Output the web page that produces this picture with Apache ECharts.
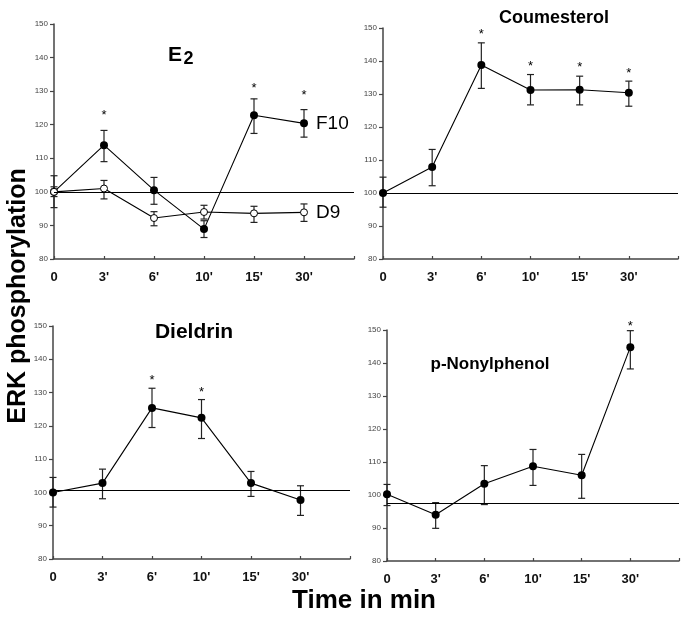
<!DOCTYPE html>
<html><head><meta charset="utf-8">
<script src="https://cdn.jsdelivr.net/npm/echarts@6/dist/echarts.min.js"></script>
<style>html,body{margin:0;padding:0;background:#fff}#c{width:687px;height:624px}</style>
</head><body><div id="c"></div>
<script>
// ---- data ----
const xLabels = ['0', "3'", "6'", "10'", "15'", "30'"];
const yTicks = [80, 90, 100, 110, 120, 130, 140, 150];

// E2 panel
const e2F10     = [100, 113.9, 100.5, 88.9, 122.8, 120.4];
const e2F10Hi   = [104.8, 118.3, 104.3, 91.4, 127.7, 124.5];
const e2F10Lo   = [95.3, 109.0, 96.3, 86.4, 117.4, 116.3];
const e2F10Star = [null, 123.8, null, null, 131.6, 129.5];
const e2D9      = [100, 101.0, 92.2, 94.0, 93.6, 93.9];
const e2D9Hi    = [101.5, 103.4, 94.1, 96.0, 95.7, 96.4];
const e2D9Lo    = [98.6, 97.9, 89.9, 91.9, 90.9, 91.2];

// Coumesterol panel
const coum     = [100, 107.9, 138.8, 131.2, 131.3, 130.4];
const coumHi   = [104.8, 113.2, 145.5, 135.9, 135.4, 133.9];
const coumLo   = [95.7, 102.2, 131.7, 126.7, 126.7, 126.3];
const coumStar = [null, null, 149.0, 139.3, 138.9, 137.0];

// Dieldrin panel
const diel     = [100, 102.8, 125.4, 122.4, 102.8, 97.7];
const dielHi   = [104.5, 107.0, 131.3, 127.9, 106.3, 102.0];
const dielLo   = [95.6, 98.1, 119.5, 116.2, 98.8, 93.1];
const dielStar = [null, null, 134.5, 130.8, null, null];

// p-Nonylphenol panel
const nonyl     = [100.2, 94.0, 103.4, 108.7, 106.0, 144.8];
const nonylHi   = [103.2, 97.7, 108.9, 113.8, 112.3, 149.8];
const nonylLo   = [96.8, 89.9, 97.1, 102.9, 99.0, 138.2];
const nonylStar = [null, null, null, null, null, 152.0];

// baseline reference lines per panel
const refLines = [100, 100, 100.6, 97.6];

// ---- layout ----
const FONT = 'Liberation Sans, Arial, sans-serif';
const grids = [
  {left: 54, top: 24, width: 300, height: 235},
  {left: 383, top: 28, width: 295, height: 231},
  {left: 53, top: 326, width: 297, height: 233},
  {left: 387, top: 330, width: 292, height: 231}
];

const panels = [
  {lines: [{name: 'F10', v: e2F10, hi: e2F10Hi, lo: e2F10Lo, star: e2F10Star, open: false, label: true},
           {name: 'D9', v: e2D9, hi: e2D9Hi, lo: e2D9Lo, star: null, open: true, label: true}]},
  {lines: [{name: 'Coumesterol', v: coum, hi: coumHi, lo: coumLo, star: coumStar, open: false}]},
  {lines: [{name: 'Dieldrin', v: diel, hi: dielHi, lo: dielLo, star: dielStar, open: false}]},
  {lines: [{name: 'p-Nonylphenol', v: nonyl, hi: nonylHi, lo: nonylLo, star: nonylStar, open: false}]}
];

const xAxes = [], yAxes = [], series = [];
grids.forEach((g, k) => {
  xAxes.push({
    gridIndex: k, type: 'category', boundaryGap: false,
    data: xLabels.concat(['']),
    axisLine: {lineStyle: {color: '#444', width: 1.5}},
    axisTick: {show: true, length: 3, inside: true, lineStyle: {color: '#444', width: 1.2}},
    axisLabel: {fontSize: 13, fontWeight: 'bold', color: '#111', fontFamily: FONT, margin: 12},
    splitLine: {show: false}
  });
  yAxes.push({
    gridIndex: k, type: 'value', min: yTicks[0], max: yTicks[yTicks.length - 1], interval: 10,
    axisLine: {show: true, lineStyle: {color: '#444', width: 1.5}},
    axisTick: {show: true, length: 4, lineStyle: {color: '#444', width: 1.2}},
    axisLabel: {fontSize: 8, color: '#444', fontFamily: FONT, margin: 6},
    splitLine: {show: false}
  });
});

function errSeries(k, line) {
  return {
    type: 'custom', xAxisIndex: k, yAxisIndex: k, z: 2, clip: false, silent: true,
    data: line.v.map((_, i) => [i, line.lo[i], line.hi[i]]),
    encode: {x: 0, y: [1, 2]},
    renderItem: function (params, api) {
      const x = api.value(0);
      const lo = api.coord([x, api.value(1)]);
      const hi = api.coord([x, api.value(2)]);
      const w = 3.5;
      const st = {stroke: '#222', lineWidth: 1.2};
      return {type: 'group', children: [
        {type: 'line', shape: {x1: lo[0], y1: lo[1], x2: hi[0], y2: hi[1]}, style: st},
        {type: 'line', shape: {x1: hi[0] - w, y1: hi[1], x2: hi[0] + w, y2: hi[1]}, style: st},
        {type: 'line', shape: {x1: lo[0] - w, y1: lo[1], x2: lo[0] + w, y2: lo[1]}, style: st}
      ]};
    }
  };
}

function starSeries(k, line) {
  const d = [];
  line.star.forEach((s, i) => { if (s != null) d.push([i, s]); });
  return {
    type: 'custom', xAxisIndex: k, yAxisIndex: k, z: 4, clip: false, silent: true,
    data: d, encode: {x: 0, y: 1},
    renderItem: function (params, api) {
      const p = api.coord([api.value(0), api.value(1)]);
      return {type: 'text', x: p[0], y: p[1] + 3,
        style: {text: '*', fontSize: 13, fontFamily: FONT, fill: '#000', align: 'center', verticalAlign: 'middle'}};
    }
  };
}

panels.forEach((p, k) => {
  p.lines.forEach((line, j) => {
    const s = {
      type: 'line', name: line.name, xAxisIndex: k, yAxisIndex: k, z: 3,
      data: line.v,
      symbol: 'circle', symbolSize: line.open ? 7 : 8,
      itemStyle: line.open ? {color: '#fff', borderColor: '#000', borderWidth: 1} : {color: '#000', borderColor: '#000', borderWidth: 0},
      lineStyle: {color: '#000', width: 1.1},
      silent: true
    };
    if (line.label) {
      s.endLabel = {show: true, formatter: '{a}', distance: 12, fontSize: 19, color: '#000', fontFamily: FONT};
    }
    if (j === 0) {
      s.markLine = {silent: true, symbol: 'none', animation: false, label: {show: false},
        lineStyle: {color: '#000', width: 1.1, type: 'solid'},
        data: [{yAxis: refLines[k]}]};
    }
    series.push(s);
    series.push(errSeries(k, line));
    if (line.star) series.push(starSeries(k, line));
  });
});

const txt = (x, y, text, size, weight, extra) => Object.assign({
  type: 'text', x: x, y: y, silent: true,
  style: {text: text, fontSize: size, fontWeight: weight, fontFamily: FONT, fill: '#000', align: 'center', verticalAlign: 'middle'}
}, extra || {});

const option = {
  animation: false,
  backgroundColor: '#fff',
  grid: grids,
  xAxis: xAxes,
  yAxis: yAxes,
  series: series,
  graphic: [
    txt(175, 55, 'E', 21, 'bold'),
    txt(188.5, 59, '2', 18, 'bold'),
    txt(554, 18, 'Coumesterol', 18, 'bold'),
    txt(194, 332, 'Dieldrin', 21, 'bold'),
    txt(490, 364, 'p-Nonylphenol', 17, 'bold'),
    txt(18, 296, 'ERK phosphorylation', 25, 'bold', {rotation: Math.PI / 2}),
    txt(364, 601, 'Time in min', 26, 'bold')
  ]
};

const chart = echarts.init(document.getElementById('c'), null, {renderer: 'canvas'});
chart.setOption(option);
</script>
</body></html>
